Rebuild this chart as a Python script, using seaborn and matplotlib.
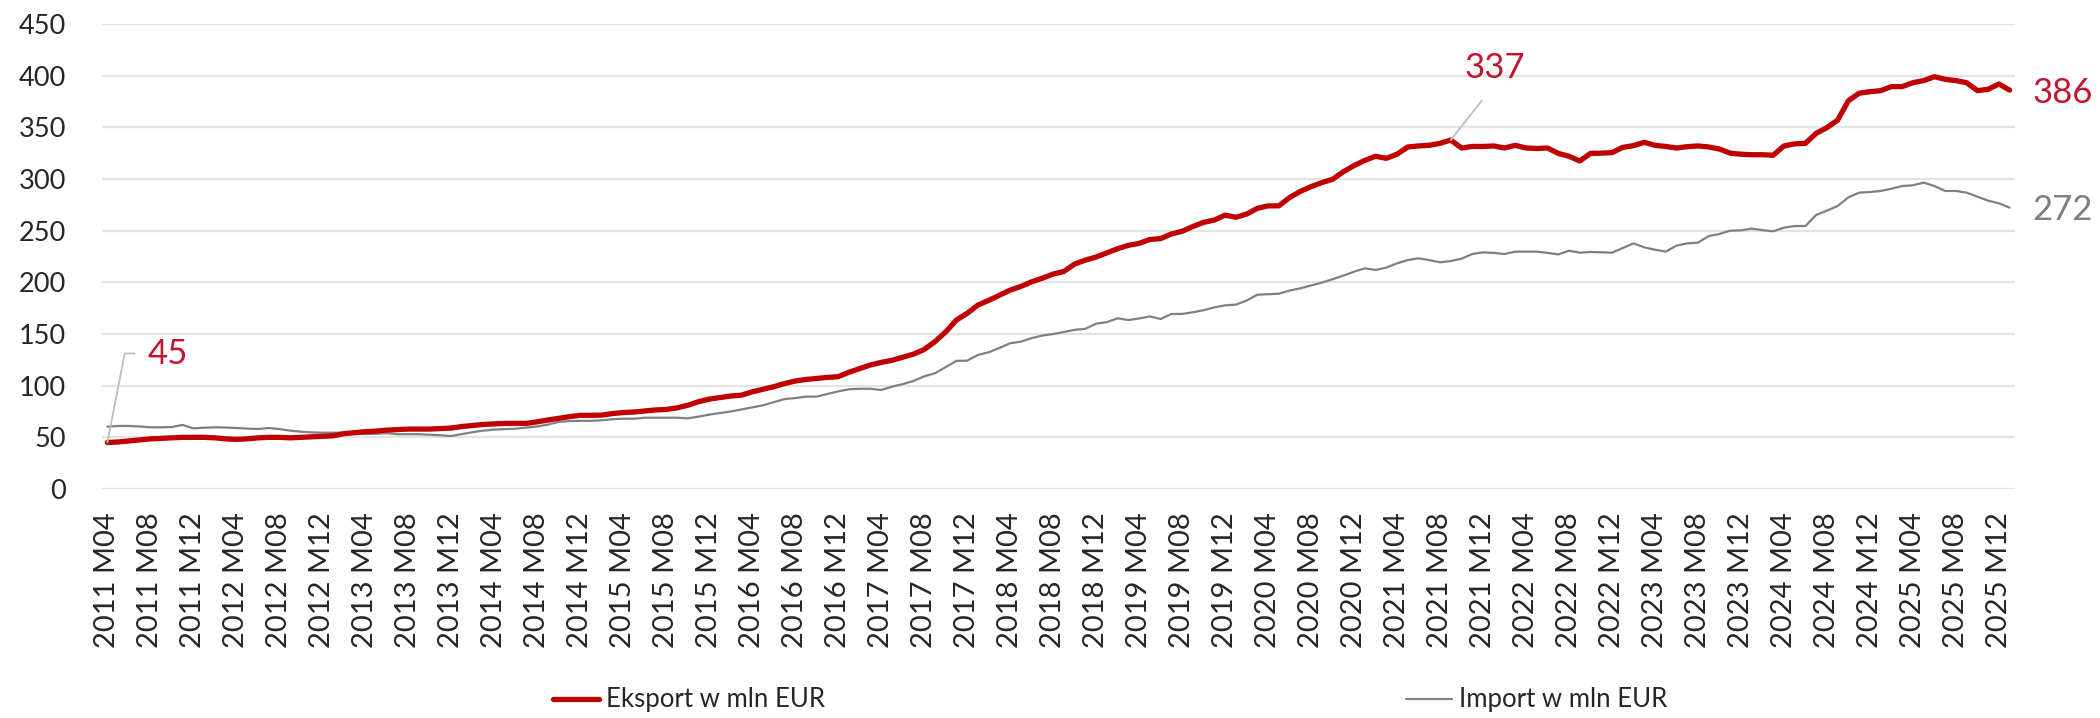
import pandas as pd
import seaborn as sns
import matplotlib.pyplot as plt

# Monthly categories 2011 M04 .. 2026 M01
months = pd.period_range("2011-04", "2026-01", freq="M")
month_labels = [f"{p.year} M{p.month:02d}" for p in months]

# Values (mln EUR)
export_vals = [
    45, 45.5, 46.5, 47.5, 48.5, 49, 49.5, 50, 50, 50,
    49.5, 48.5, 48, 48.5, 49.5, 50, 50, 49.5, 50, 50.5,
    51, 51.5, 53.5, 54.5, 55.5, 56, 57, 57.5, 58, 58,
    58, 58.5, 59, 60.5, 61.5, 62.5, 63, 63.5, 63.5, 63.5,
    65, 66.8, 68.4, 70, 71.3, 71.3, 71.5, 73, 74, 74.5,
    75.5, 76.5, 77, 78.5, 81, 84.5, 87, 88.5, 90, 90.8,
    94, 96.5, 99, 102, 104.5, 106, 107, 108, 108.7, 113,
    116.5, 120, 122.5, 124.5, 127.5, 130.5, 135, 142.6, 152, 163.5,
    170, 178, 182.5, 187.5, 192.5, 196, 200.5, 204, 208, 210.5,
    217.7, 221.5, 224.5, 228.5, 232.5, 235.8, 237.7, 241.5, 242.3, 246.8,
    249.4, 254, 258, 260.3, 265, 263, 266, 271.6, 274, 274,
    282, 288, 292.6, 296.5, 299.7, 307, 313, 318, 322, 320,
    324, 331, 332, 332.6, 334.5, 337.7, 330, 331.5, 331.5, 332,
    330, 332.6, 330, 329.5, 330, 324.8, 322, 317.4, 324.8, 325,
    325.5, 330.6, 332.3, 335.5, 332.6, 331.5, 330, 331.3, 332, 331,
    329, 325, 324, 323.5, 323.5, 323, 332, 334, 334.5, 344.2,
    349.7, 357, 375.8, 383, 384.5, 385.5, 389.4, 389.4, 393.2, 395.2,
    399, 396.5, 395.2, 393.2, 385.5, 386.8, 392, 386,
]
import_vals = [
    60.3, 61, 61, 60.5, 59.7, 59.7, 60, 62, 58.7, 59.3,
    59.7, 59.5, 59, 58.5, 58, 59, 58, 56.5, 55.5, 54.8,
    54.5, 54.5, 54.5, 53.5, 53.2, 53.5, 54, 53, 53, 53,
    52.5, 52, 51.3, 53.2, 55, 56.5, 57.5, 58, 58.4, 59.5,
    60.5, 62.3, 65, 65.7, 66, 66, 66.5, 67.5, 68, 68,
    69, 69, 69, 69, 68.4, 70, 72, 73.5, 75, 77,
    79, 81, 84, 87, 88, 89.4, 89.4, 92, 94.5, 96.5,
    97, 97, 95.8, 99, 101.5, 104.5, 109, 112, 118, 124,
    124.2, 129.7, 132.3, 136.5, 141, 142.6, 146, 148.5, 150, 152,
    154, 155, 160, 161.5, 165.2, 163.5, 165, 167, 164.5, 169.4,
    169.4, 171, 173, 175.8, 177.7, 178.4, 182.3, 188, 188.5, 189,
    192, 194.2, 197, 199.7, 203, 206.5, 210.3, 213.5, 212, 214.2,
    218.4, 221.6, 223.2, 221.5, 219.4, 220.6, 222.9, 227.4, 229, 228.5,
    227.4, 229.7, 229.7, 229.7, 228.5, 227, 230.6, 228.7, 229.4, 229,
    228.7, 233.2, 237.7, 233.9, 231.6, 229.7, 235.5, 237.7, 238.4, 244.8,
    246.8, 250, 250.3, 252, 250.5, 249.4, 252.9, 254.5, 254.5, 265.2,
    269.4, 273.9, 282.3, 286.8, 287.4, 288.4, 290.6, 293.2, 293.9, 296.5,
    293.2, 288.4, 288.4, 286.8, 282.9, 279, 276.5, 272.3,
]
y_ticks = [0, 50, 100, 150, 200, 250, 300, 350, 400, 450]

RED = "#C00000"
GRAY = "#808080"
LBL_RED = "#C0152F"

df = pd.DataFrame({
    "idx": range(len(months)),
    "Eksport w mln EUR": export_vals,
    "Import w mln EUR": import_vals,
})

sns.set_style("white")
plt.rcParams["font.family"] = ["Lato", "DejaVu Sans"]

fig = plt.figure(figsize=(21, 7.18), dpi=100)
ax = fig.add_axes([102 / 2100, 1 - 489 / 718, (2015 - 102) / 2100, (489 - 24) / 718])

sns.lineplot(data=df, x="idx", y="Import w mln EUR", color=GRAY, linewidth=1.6,
             ax=ax, label="Import w mln EUR", legend=False)
sns.lineplot(data=df, x="idx", y="Eksport w mln EUR", color=RED, linewidth=3.8,
             ax=ax, label="Eksport w mln EUR", legend=False)

ax.set_xlim(-0.5, len(months) - 0.5)
ax.set_ylim(0, 450)
ax.set_yticks(y_ticks)
ax.set_yticklabels([str(t) for t in y_ticks], fontsize=19.5)
ax.grid(axis="y", color="#e3e3e3", linewidth=1.6)
ax.set_axisbelow(True)
for s in ax.spines.values():
    s.set_visible(False)

tick_pos = list(range(0, len(months), 4))
ax.set_xticks(tick_pos)
ax.set_xticklabels([month_labels[i] for i in tick_pos], rotation=90, fontsize=21)
ax.tick_params(axis="x", length=0, pad=17)
ax.tick_params(axis="y", length=0, pad=26)
ax.set_xlabel("")
ax.set_ylabel("")

# data labels
lead = dict(arrowstyle="-", color="#bfbfbf", lw=1.3, shrinkB=0)
ax.annotate("45", xy=(0, export_vals[0]), xytext=(40, 89), textcoords="offset pixels",
            fontsize=25, color=LBL_RED, ha="left", va="center",
            arrowprops=dict(lead, shrinkA=7, relpos=(0, 0.5),
                            connectionstyle="angle,angleA=0,angleB=79,rad=0"))
peak = export_vals.index(max(export_vals[:150]))
ax.annotate("337", xy=(peak, export_vals[peak]), xytext=(44, 72), textcoords="offset pixels",
            fontsize=25, color=LBL_RED, ha="center", va="center",
            arrowprops=dict(lead, shrinkA=12, relpos=(0.5, 0)))
last = len(months) - 1
ax.annotate("386", xy=(last, export_vals[-1]), xytext=(23, -3), textcoords="offset pixels",
            fontsize=25, color=LBL_RED, ha="left", va="center")
ax.annotate("272", xy=(last, import_vals[-1]), xytext=(23, -2), textcoords="offset pixels",
            fontsize=25, color="#7f7f7f", ha="left", va="center")

# legend entries spread like the original
h_exp, l_exp = [ax.get_lines()[1]], ["Eksport w mln EUR"]
h_imp, l_imp = [ax.get_lines()[0]], ["Import w mln EUR"]
for h, l, x0 in [(h_exp, l_exp, 553), (h_imp, l_imp, 1406)]:
    fig.legend(h, l, loc="center left", bbox_to_anchor=(x0 / 2100, 1 - 700 / 718),
               frameon=False, fontsize=18.5, handlelength=1.8, handletextpad=0.25,
               borderpad=0, borderaxespad=0)

fig.savefig("out.png", dpi=100)
